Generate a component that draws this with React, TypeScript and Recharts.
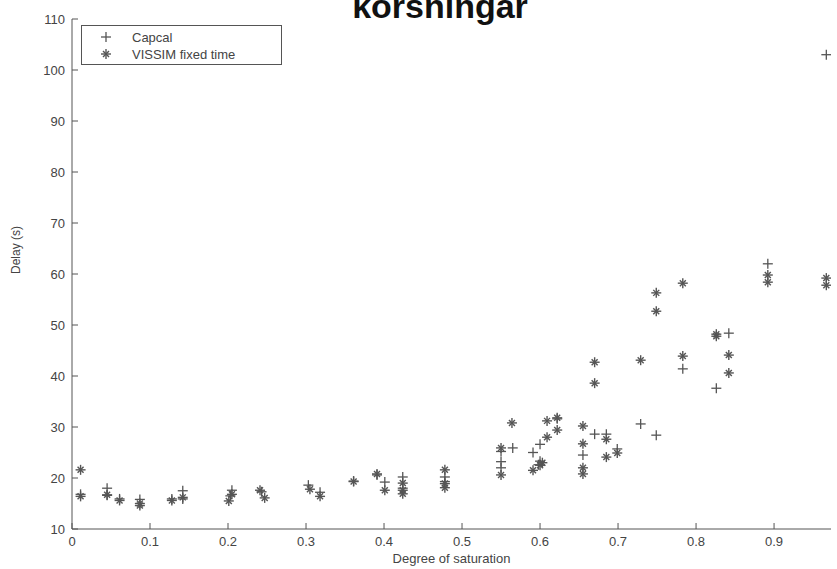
import React from "react";
import { ScatterChart, Scatter, XAxis, YAxis, Legend } from "recharts";

type Pt = { x: number; y: number };

// Capcal (+) estimates
const capcal: Pt[] = [
  [0.011, 16.8], [0.045, 18.0], [0.045, 16.6], [0.061, 15.9], [0.087, 15.8],
  [0.128, 15.9], [0.142, 17.5], [0.142, 15.9], [0.205, 17.6], [0.203, 16.5],
  [0.243, 17.3], [0.303, 18.6], [0.318, 17.2], [0.361, 19.4], [0.391, 20.6],
  [0.401, 19.2], [0.424, 20.2], [0.424, 18.0], [0.478, 20.2], [0.478, 19.3],
  [0.55, 25.2], [0.55, 23.2], [0.55, 22.0], [0.565, 25.9], [0.591, 25.0],
  [0.6, 26.6], [0.6, 23.3], [0.598, 22.6], [0.622, 31.6], [0.655, 24.5],
  [0.67, 28.6], [0.685, 28.6], [0.699, 25.7], [0.729, 30.6], [0.749, 28.4],
  [0.783, 41.4], [0.826, 37.6], [0.842, 48.4], [0.892, 62.0], [0.967, 103.0],
].map(([x, y]) => ({ x, y }));

// VISSIM fixed time (*) estimates
const vissim: Pt[] = [
  [0.011, 21.6], [0.011, 16.4], [0.045, 16.7], [0.061, 15.6], [0.087, 15.0],
  [0.087, 14.6], [0.128, 15.6], [0.142, 16.2], [0.205, 16.8], [0.201, 15.5],
  [0.241, 17.6], [0.247, 16.1], [0.305, 17.8], [0.318, 16.4], [0.361, 19.3],
  [0.391, 20.8], [0.401, 17.6], [0.424, 19.0], [0.424, 17.6], [0.424, 16.9],
  [0.478, 21.6], [0.478, 18.9], [0.478, 18.1], [0.55, 25.9], [0.55, 20.6],
  [0.564, 30.8], [0.591, 21.5], [0.6, 22.5], [0.603, 23.0], [0.609, 31.2],
  [0.609, 28.0], [0.622, 31.8], [0.622, 29.4], [0.655, 30.2], [0.655, 26.7],
  [0.655, 22.0], [0.655, 20.8], [0.67, 42.7], [0.67, 38.6], [0.685, 27.6],
  [0.685, 24.1], [0.699, 24.9], [0.729, 43.1], [0.749, 56.3], [0.749, 52.7],
  [0.783, 58.2], [0.783, 43.9], [0.826, 48.2], [0.826, 47.8], [0.842, 44.1],
  [0.842, 40.6], [0.892, 59.8], [0.892, 58.4], [0.967, 59.2], [0.967, 57.8],
].map(([x, y]) => ({ x, y }));

const xTicks = [0, 0.1, 0.2, 0.3, 0.4, 0.5, 0.6, 0.7, 0.8, 0.9];
const yTicks = [10, 20, 30, 40, 50, 60, 70, 80, 90, 100, 110];

const ink = "#555";
const font = "'Liberation Sans', Arial, sans-serif";

function PlusMark({ cx, cy }: any) {
  return (
    <g stroke={ink} strokeWidth={1.3}>
      <line x1={cx - 5} y1={cy} x2={cx + 5} y2={cy} />
      <line x1={cx} y1={cy - 5} x2={cx} y2={cy + 5} />
    </g>
  );
}

function StarMark({ cx, cy }: any) {
  return (
    <g stroke={ink} strokeWidth={1.4}>
      <line x1={cx - 5} y1={cy} x2={cx + 5} y2={cy} />
      <line x1={cx} y1={cy - 5} x2={cx} y2={cy + 5} />
      <line x1={cx - 3} y1={cy - 3} x2={cx + 3} y2={cy + 3} />
      <line x1={cx - 3} y1={cy + 3} x2={cx + 3} y2={cy - 3} />
    </g>
  );
}

function XTick({ x, y, payload }: any) {
  return (
    <g>
      <line x1={x} y1={y} x2={x} y2={y - 6} stroke={ink} />
      <text x={x} y={y + 17} textAnchor="middle" fontSize={13} fill="#444" fontFamily={font}>
        {payload.value}
      </text>
    </g>
  );
}

function YTick({ x, y, payload }: any) {
  return (
    <g>
      <line x1={x} y1={y} x2={x + 6} y2={y} stroke={ink} />
      <text x={x - 7} y={y + 4.5} textAnchor="end" fontSize={13} fill="#444" fontFamily={font}>
        {payload.value}
      </text>
    </g>
  );
}

function LegendBox() {
  return (
    <div
      style={{
        border: `1px solid ${ink}`,
        width: 199,
        height: 38,
        background: "#fff",
        fontFamily: font,
        fontSize: 13,
        color: "#444",
      }}
    >
      <svg width={199} height={38}>
        <PlusMark cx={24} cy={11} />
        <text x={50} y={15.5} fontSize={13} fill="#444" fontFamily={font}>Capcal</text>
        <StarMark cx={24} cy={28} />
        <text x={50} y={32.5} fontSize={13} fill="#444" fontFamily={font}>VISSIM fixed time</text>
      </svg>
    </div>
  );
}

export default function App() {
  return (
    <div style={{ position: "absolute", left: 0, top: 0, width: 837, height: 569, background: "#fff" }}>
      <ScatterChart width={837} height={569} margin={{ top: 19, right: 6, left: 0, bottom: 0 }}>
        <XAxis
          type="number"
          dataKey="x"
          domain={[0, 0.973]}
          ticks={xTicks}
          allowDataOverflow
          height={40}
          tickSize={0}
          tickMargin={0}
          tickLine={false}
          tick={<XTick />}
          axisLine={{ stroke: ink }}
          label={{ value: "Degree of saturation", position: "insideBottom", offset: 6, fontSize: 13, fill: "#444", fontFamily: font }}
        />
        <YAxis
          type="number"
          dataKey="y"
          domain={[10, 110]}
          ticks={yTicks}
          allowDataOverflow
          width={72}
          tickSize={0}
          tickMargin={0}
          tickLine={false}
          tick={<YTick />}
          axisLine={{ stroke: ink }}
          label={{ value: "Delay (s)", angle: -90, position: "insideLeft", offset: 16, fontSize: 12, fill: "#444", fontFamily: font }}
        />
        <Legend
          layout="vertical"
          align="center"
          verticalAlign="middle"
          wrapperStyle={{ left: 81, top: 25, width: 201, height: 40 }}
          content={() => <LegendBox />}
        />
        <Scatter name="Capcal" data={capcal} shape={<PlusMark />} isAnimationActive={false} />
        <Scatter name="VISSIM fixed time" data={vissim} shape={<StarMark />} isAnimationActive={false} />
        <text x={440} y={18} textAnchor="middle" fontSize={34} fontWeight="bold" fill="#111" fontFamily={font}>
          korsningar
        </text>
      </ScatterChart>
    </div>
  );
}
